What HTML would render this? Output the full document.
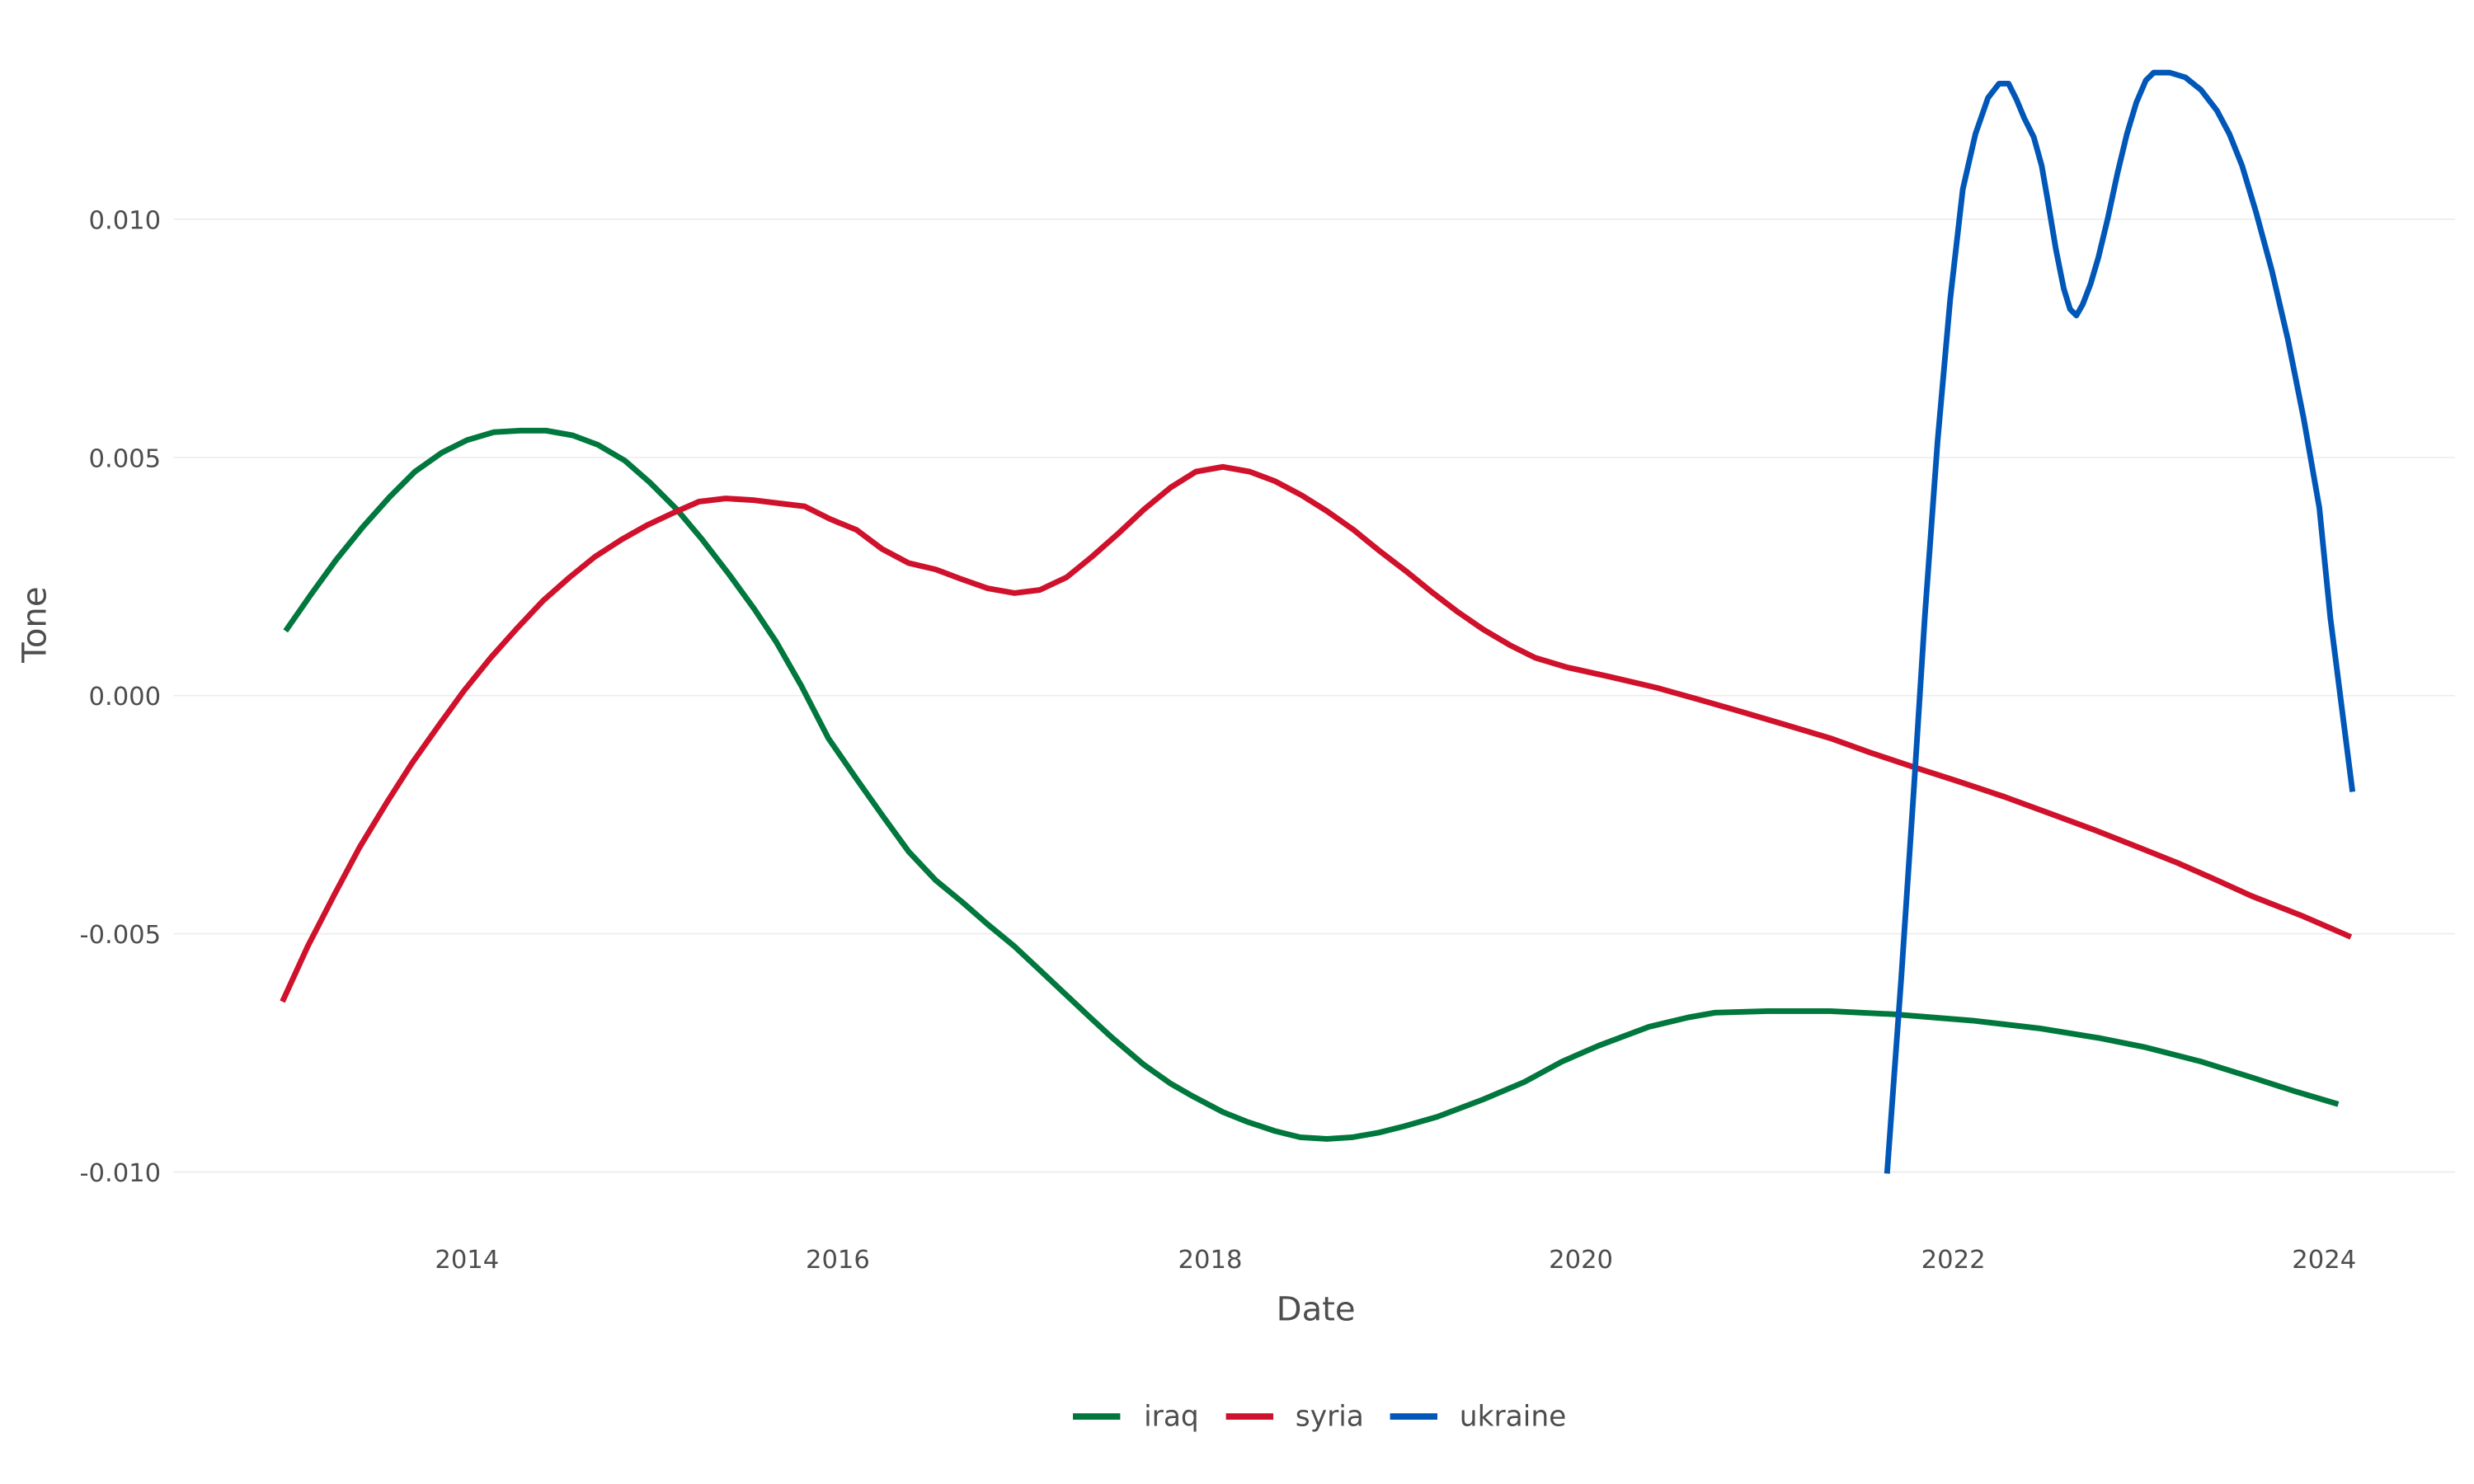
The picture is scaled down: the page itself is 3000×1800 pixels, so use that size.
<!DOCTYPE html>
<html><head><meta charset="utf-8"><style>html,body{margin:0;padding:0;background:#fff;width:3000px;height:1800px;overflow:hidden}svg{display:block}text{font-family:"DejaVu Sans","Liberation Sans",sans-serif;fill:#4d4d4d}</style></head>
<body>
<svg width="3000" height="1800" viewBox="0 0 1568 940.8" preserveAspectRatio="none" xmlns="http://www.w3.org/2000/svg">
<rect width="1568" height="940.8" fill="#fff"/>
<g stroke="#ebebeb" stroke-width="0.8">
<line x1="110" x2="1556" y1="139" y2="139"/><line x1="110" x2="1556" y1="290" y2="290"/><line x1="110" x2="1556" y1="441" y2="441"/><line x1="110" x2="1556" y1="592" y2="592"/><line x1="110" x2="1556" y1="743" y2="743"/>
</g>
<g font-size="16" text-anchor="end">
<text x="102" y="145">0.010</text><text x="102" y="296">0.005</text><text x="102" y="447">0.000</text><text x="102" y="598">-0.005</text><text x="102" y="749">-0.010</text>
</g>
<g font-size="16" text-anchor="middle">
<text x="296" y="804">2014</text><text x="531" y="804">2016</text><text x="767" y="804">2018</text><text x="1002" y="804">2020</text><text x="1238" y="804">2022</text><text x="1473" y="804">2024</text>
</g>
<text x="834" y="837" font-size="21" text-anchor="middle">Date</text>
<text transform="translate(29,396) rotate(-90)" font-size="21" text-anchor="middle">Tone</text>
<g fill="none" stroke-width="3.6" stroke-linejoin="round" stroke-linecap="butt">
<polyline stroke="#00773d" points="181,400 197,377 213,355 230,334 247,315 263,299 280,287 296,279 313,274 330,273 346,273 363,276 379,282 396,292 412,306 429,323 445,342 462,364 478,386 492,407 508,435 525,468 543,494 560,518 576,540 593,558 610,572 626,586 643,600 659,615 676,631 692,646 705,658 725,675 742,687 756,695 775,705 790,711 808,717 824,721 841,722 857,721 874,718 890,714 911,708 940,697 966,686 990,673 1013,663 1045,651 1070,645 1087,642 1120,641 1160,641 1200,643 1250,647 1293,652 1330,658 1360,664 1395,673 1427,683 1455,692 1482,700"/>
<polyline stroke="#d0112b" points="179,635 195,600 212,567 228,537 245,509 261,484 278,460 294,438 311,417 328,398 344,381 361,366 377,353 394,342 410,333 427,325 443,318 460,316 477,317 493,319 510,321 526,329 543,336 559,348 576,357 593,361 609,367 626,373 643,376 659,374 676,366 692,353 709,338 725,323 742,309 758,299 775,296 792,299 808,305 825,314 841,324 858,336 874,349 891,362 907,375 924,388 940,399 957,409 973,417 993,423 1020,429 1050,436 1075,443 1103,451 1130,459 1160,468 1185,477 1212,486 1240,495 1270,505 1300,516 1327,526 1355,537 1380,547 1405,558 1427,568 1460,581 1490,594"/>
<polyline stroke="#0057b8" points="1196,744 1205,620 1213,500 1220,390 1228,280 1236,190 1244,120 1252,85 1260,62 1267,53 1273,53 1278,63 1283,75 1289,87 1294,105 1298,128 1303,158 1308,183 1312,196 1316,200 1320,193 1325,180 1330,163 1336,138 1342,110 1348,85 1354,65 1360,51 1365,46 1375,46 1385,49 1395,57 1405,70 1413,85 1421,105 1430,135 1440,172 1450,215 1460,265 1470,322 1477,392 1491,502"/>
</g>
<g stroke-width="4">
<line x1="680" x2="710" y1="898" y2="898" stroke="#00773d"/>
<line x1="777" x2="807" y1="898" y2="898" stroke="#d0112b"/>
<line x1="881" x2="911" y1="898" y2="898" stroke="#0057b8"/>
</g>
<g font-size="18">
<text x="725" y="904">iraq</text><text x="821" y="904">syria</text><text x="925" y="904">ukraine</text>
</g>
</svg>
</body></html>
